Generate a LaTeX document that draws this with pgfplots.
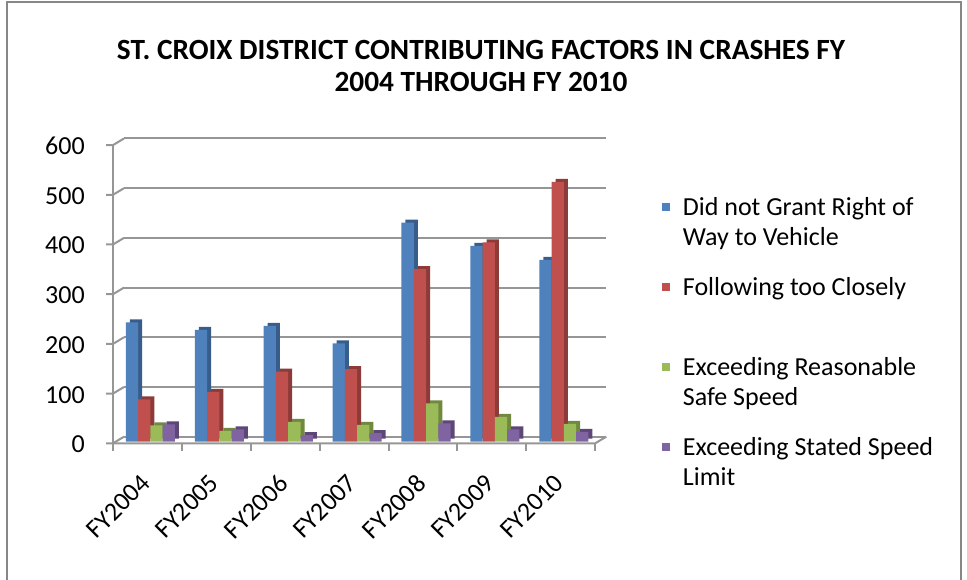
\documentclass[border=0pt]{standalone}
\usepackage{pgfplots}
\pgfplotsset{compat=1.18}
\usepackage{fontspec}
\setmainfont{Carlito}
\definecolor{cB}{HTML}{4F81BD}\definecolor{cBd}{HTML}{385D8A}
\definecolor{cR}{HTML}{C0504D}\definecolor{cRd}{HTML}{8C3B39}
\definecolor{cG}{HTML}{9BBB59}\definecolor{cGd}{HTML}{71893F}
\definecolor{cP}{HTML}{8064A2}\definecolor{cPd}{HTML}{5C4776}
\definecolor{gridc}{RGB}{150,150,150}
\pgfplotstableread{
x blue red green purple
0 240 85 33 35
1 225 100 22 25
2 233 141 40 13
3 198 146 34 17
4 441 347 77 37
5 394 401 50 25
6 366 523 36 20
}\crashdata
\begin{document}
\begin{tikzpicture}
\path[use as bounding box] (0pt,0pt) rectangle (725.25pt,434.25pt);
\draw[line width=1.5pt, color={rgb,255:red,135;green,135;blue,135}] (5.25pt,-4pt) rectangle (720.75pt,432.75pt);
\node[font=\fontsize{22}{24}\selectfont\bfseries, anchor=base] at (360.75pt,389.25pt) {ST. CROIX DISTRICT CONTRIBUTING FACTORS IN CRASHES FY};
\node[font=\fontsize{22}{24}\selectfont\bfseries, anchor=base] at (360.75pt,365.25pt) {2004 THROUGH FY 2010};
\begin{axis}[
  at={(87pt,102.98pt)}, anchor=south west,
  scale only axis, width=361.7pt, height=223.65pt,
  xmin=-0.5, xmax=6.5, ymin=0, ymax=600,
  clip=false,
  axis line style={draw=none}, tick style={draw=none},
  ytick={0,100,...,600},
  xtick={0,...,6},
  xticklabels={FY2004,FY2005,FY2006,FY2007,FY2008,FY2009,FY2010},
  /pgf/number format/assume math mode=true,
  ticklabel style={font=\fontsize{19.5}{22.5}\selectfont, inner sep=0pt},
  yticklabel style={anchor=east, xshift=-23.25pt, yshift=-2pt},
  xticklabel style={xshift=-8.25pt, yshift=-19pt, rotate=45, anchor=north east},
  ybar=0pt, bar width=9.2pt,
  legend style={at={(1.1321,0.8306)}, anchor=north west, draw=none, fill=none,
    inner sep=0pt, row sep=20.25pt, column sep=10pt,
    font=\fontsize{19.5}{22.5}\selectfont,
    cells={anchor=base west, align=left}, nodes={inner sep=0pt}},
  myleg/.style={legend image code/.code={\fill[##1,draw=none] (0pt,25.95pt) rectangle (5.5pt,31.45pt);}},
]
% back grid, left wall, front axis
\pgfplotsinvokeforeach{0,100,200,300,400,500,600}{
  \draw[gridc, line width=1.5pt] ([shift={(6pt,3.75pt)}]axis cs:-0.5,#1) -- ([shift={(6pt,3.75pt)}]axis cs:6.5,#1);
  \draw[gridc, line width=1.5pt] ([shift={(-7.5pt,-1.2pt)}]axis cs:-0.5,#1) -- ([shift={(-2.25pt,-1.2pt)}]axis cs:-0.5,#1) -- ([shift={(6pt,3.75pt)}]axis cs:-0.5,#1);
}
\draw[gridc, line width=1.5pt] ([shift={(-2.25pt,-1.2pt)}]axis cs:-0.5,0) -- ([shift={(-2.25pt,-1.2pt)}]axis cs:-0.5,600);
\draw[gridc, line width=1.5pt] ([shift={(-2.25pt,-1.2pt)}]axis cs:-0.5,0) -- ([shift={(-2.25pt,-1.2pt)}]axis cs:6.5,0) -- ([shift={(6pt,3.75pt)}]axis cs:6.5,0);
\pgfplotsinvokeforeach{-0.5,0.5,1.5,2.5,3.5,4.5,5.5,6.5}{
  \draw[gridc, line width=1.5pt] ([shift={(-2.25pt,-1.2pt)}]axis cs:#1,0) -- ([shift={(-2.25pt,-7.2pt)}]axis cs:#1,0);
}
% side/top faces
\addplot[forget plot, fill=cBd, draw=none, bar shift=-10.8pt, yshift=2.25pt] table[x=x,y=blue] {\crashdata};
\addplot[forget plot, fill=cRd, draw=none, bar shift=-1.6pt, yshift=2.25pt] table[x=x,y=red] {\crashdata};
\addplot[forget plot, fill=cGd, draw=none, bar shift=7.6pt, yshift=2.25pt] table[x=x,y=green] {\crashdata};
\addplot[forget plot, fill=cPd, draw=none, bar shift=16.8pt, yshift=2.25pt] table[x=x,y=purple] {\crashdata};
% front faces
\addplot[fill=cB, draw=none, bar shift=-13.8pt, myleg] table[x=x,y=blue] {\crashdata};
\addlegendentry{\strut Did not Grant Right of\\Way to Vehicle\strut}
\addplot[fill=cR, draw=none, bar shift=-4.6pt, myleg] table[x=x,y=red] {\crashdata};
\addlegendentry{\strut Following too Closely\\\strut}
\addplot[fill=cG, draw=none, bar shift=4.6pt, myleg] table[x=x,y=green] {\crashdata};
\addlegendentry{\strut Exceeding Reasonable\\Safe Speed\strut}
\addplot[fill=cP, draw=none, bar shift=13.8pt, myleg] table[x=x,y=purple] {\crashdata};
\addlegendentry{\strut Exceeding Stated Speed\\Limit\strut}
\end{axis}
\end{tikzpicture}
\end{document}
